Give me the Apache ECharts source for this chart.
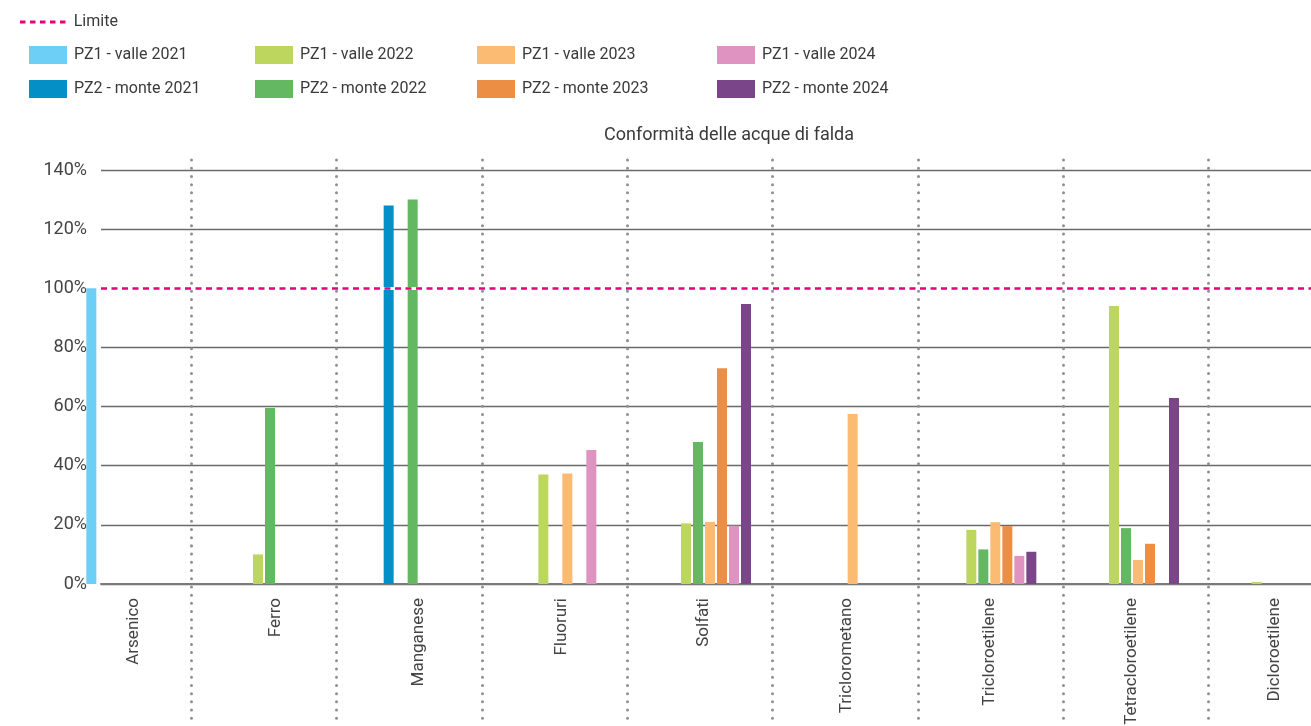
<!DOCTYPE html>
<html>
<head>
<meta charset="utf-8">
<title>Conformità delle acque di falda</title>
<script src="https://cdn.jsdelivr.net/npm/echarts@6/dist/echarts.min.js"></script>
<style>
  html, body { margin: 0; padding: 0; background: #fff; }
  #chart { width: 1311px; height: 726px; }
</style>
</head>
<body>
<div id="chart"></div>
<script>
// dati (valori in % del limite, null = nessuna barra)
const categories = ['Arsenico', 'Ferro', 'Manganese', 'Fluoruri', 'Solfati', 'Triclorometano', 'Tricloroetilene', 'Tetracloroetilene', 'Dicloroetilene']
const seriesNames = ['PZ1 - valle 2021', 'PZ2 - monte 2021', 'PZ1 - valle 2022', 'PZ2 - monte 2022', 'PZ1 - valle 2023', 'PZ2 - monte 2023', 'PZ1 - valle 2024', 'PZ2 - monte 2024']
const seriesColors = ['#6DCFF6', '#058FC7', '#BDD65E', '#65B862', '#FBBB73', '#EC8F45', '#DE93C0', '#7B4589']
const valle2021 = [100, null, null, null, null, null, null, null, null]
const monte2021 = [null, null, 128, null, null, null, null, null, null]
const valle2022 = [null, 10, null, 37, 20.5, null, 18.3, 94, 0.7]
const monte2022 = [null, 59.5, 130, null, 48, null, 11.7, 18.9, null]
const valle2023 = [null, null, null, 37.4, 21, 57.5, 20.9, 8.1, null]
const monte2023 = [null, null, null, null, 73, null, 19.6, 13.6, null]
const valle2024 = [null, null, null, 45.3, 19.7, null, 9.5, null, null]
const monte2024 = [null, null, null, null, 94.7, null, 10.9, 62.9, null]
const seriesValues = [valle2021, monte2021, valle2022, monte2022, valle2023, monte2023, valle2024, monte2024]
const limite = 100
const limiteName = 'Limite'
const yMin = 0
const yMax = 140
const yStep = 20

const font = 'Roboto, "Liberation Sans", sans-serif'
const textColor = '#3a3a3a'
const pink = '#E6007E'

var chart = echarts.init(document.getElementById('chart'))

var barSeries = seriesNames.map(function (name, i) {
  return {
    name: name,
    type: 'bar',
    xAxisIndex: 1,
    yAxisIndex: 1,
    data: seriesValues[i],
    barWidth: 10,
    barGap: '20%',
    itemStyle: { color: seriesColors[i] }
  }
})

// legende a colonne (valle sopra, monte sotto)
var columnLefts = [29, 255, 477, 717]
var legends = [{
  data: [{
    name: limiteName,
    icon: 'path://M0,0H5.5V3H0Z M10,0H15.5V3H10Z M20,0H25.5V3H20Z M30,0H35.5V3H30Z M40,0H45.5V3H40Z',
    itemStyle: { color: pink }
  }],
  left: 20,
  top: 14,
  padding: 0,
  itemWidth: 46,
  itemHeight: 3,
  itemGap: 0,
  textStyle: { fontFamily: font, fontSize: 16, color: textColor, padding: [0, 0, 0, 3] }
}]
for (let c = 0; c < 4; c++) {
  legends.push({
    data: [seriesNames[c * 2], seriesNames[c * 2 + 1]],
    orient: 'vertical',
    left: columnLefts[c],
    top: 46,
    padding: 0,
    icon: 'rect',
    itemWidth: 38,
    itemHeight: 18,
    itemGap: 16,
    textStyle: { fontFamily: font, fontSize: 16, color: textColor, padding: [0, 0, 0, 2] }
  })
}

chart.setOption({
  animation: false,
  backgroundColor: '#fff',
  title: {
    text: 'Conformità delle acque di falda',
    left: 604,
    top: 126,
    padding: 0,
    textStyle: { fontFamily: font, fontSize: 18, fontWeight: 'normal', color: textColor }
  },
  legend: legends,
  grid: [
    // griglia con linee orizzontali e limite
    { left: 101, right: 0, top: 170, bottom: 142, outerBoundsMode: 'none' },
    // barre
    { left: 62, right: -35, top: 170, bottom: 142, outerBoundsMode: 'none' },
    // separatori punteggiati
    { left: 46, right: -43, top: 160, bottom: 0, outerBoundsMode: 'none' }
  ],
  xAxis: [
    {
      gridIndex: 0,
      type: 'category',
      data: categories,
      axisLine: { show: true, lineStyle: { color: '#7a7a7a', width: 2 } },
      axisTick: { show: false },
      axisLabel: { show: false },
      splitLine: { show: false }
    },
    {
      gridIndex: 1,
      type: 'category',
      data: categories,
      axisLine: { show: false },
      axisTick: { show: false },
      axisLabel: {
        interval: 0,
        rotate: 90,
        margin: 14,
        fontFamily: font,
        fontSize: 17,
        color: '#444'
      },
      splitLine: { show: false }
    },
    {
      gridIndex: 2,
      type: 'value',
      min: 0,
      max: 9,
      interval: 1,
      axisLine: { show: false },
      axisTick: { show: false },
      axisLabel: { show: false },
      splitLine: {
        show: true,
        showMinLine: false,
        lineStyle: { color: '#8f8f8f', width: 3, type: [0.01, 8.2], cap: 'round' }
      }
    }
  ],
  yAxis: [
    {
      gridIndex: 0,
      type: 'value',
      min: yMin,
      max: yMax,
      interval: yStep,
      axisLine: { show: false },
      axisTick: { show: false },
      axisLabel: {
        formatter: '{value}%',
        margin: 14,
        fontFamily: font,
        fontSize: 18,
        color: '#444'
      },
      splitLine: { lineStyle: { color: '#6a6a6a', width: 1.4 } }
    },
    { gridIndex: 1, type: 'value', min: yMin, max: yMax, show: false },
    { gridIndex: 2, type: 'value', min: 0, max: 1, show: false }
  ],
  series: [{
    name: limiteName,
    type: 'line',
    xAxisIndex: 0,
    yAxisIndex: 0,
    data: [],
    symbol: 'none',
    z: 5,
    lineStyle: { color: pink, width: 2.6, type: [6, 4.5] },
    itemStyle: { color: pink },
    markLine: {
      silent: true,
      symbol: ['none', 'none'],
      label: { show: false },
      data: [
        // copre la linea di griglia al 100%
        { yAxis: limite, lineStyle: { color: '#fff', width: 3, type: 'solid' } },
        { yAxis: limite, lineStyle: { color: pink, width: 2.6, type: [6, 4.5] } }
      ]
    }
  }].concat(barSeries)
})
</script>
</body>
</html>
